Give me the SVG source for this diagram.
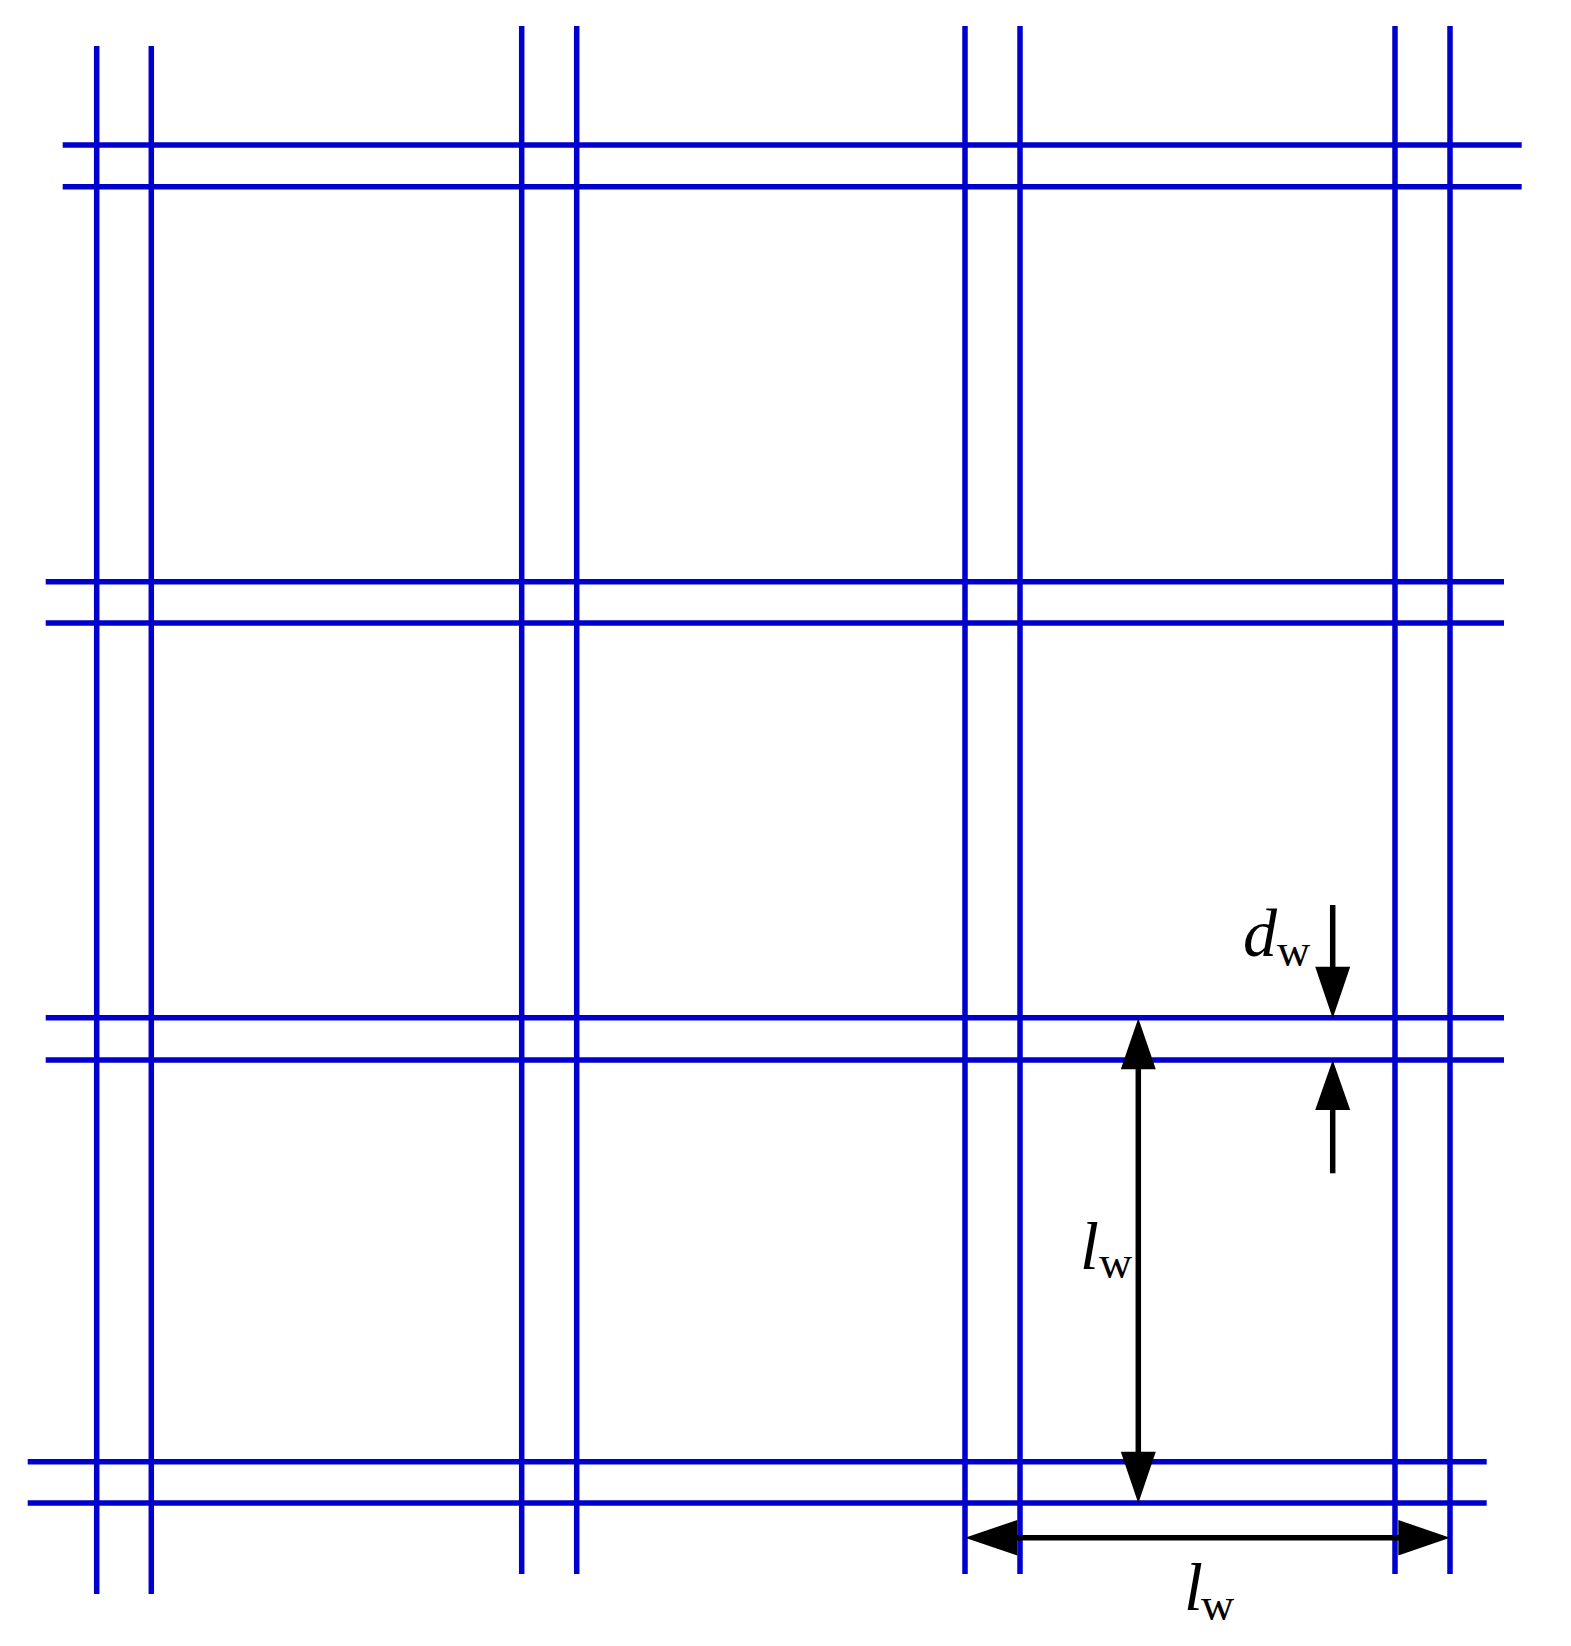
<svg xmlns="http://www.w3.org/2000/svg" width="1571" height="1646" viewBox="0 0 1571 1646">
<style>
.w{stroke:#0000cc;stroke-width:5.5;fill:none}
.d{stroke:#000;stroke-width:5.5;fill:none}
.h{fill:#000;stroke:none}
.t{font-family:"Liberation Serif","Times New Roman",serif;fill:#000}
</style>
<rect width="1571" height="1646" fill="#fff"/>
<g id="mesh">
<g id="horizontal-wires">
<line class="w" x1="62.7" y1="145" x2="1521.7" y2="145"/>
<line class="w" x1="62.7" y1="186.7" x2="1521.7" y2="186.7"/>
<line class="w" x1="45.7" y1="581.7" x2="1504" y2="581.7"/>
<line class="w" x1="45.7" y1="623" x2="1504" y2="623"/>
<line class="w" x1="45.7" y1="1017.7" x2="1504" y2="1017.7"/>
<line class="w" x1="45.7" y1="1060" x2="1504" y2="1060"/>
<line class="w" x1="27.7" y1="1461.7" x2="1486.7" y2="1461.7"/>
<line class="w" x1="27.7" y1="1503" x2="1486.7" y2="1503"/>
</g>
<g id="vertical-wires">
<line class="w" x1="96.7" y1="46" x2="96.7" y2="1594"/>
<line class="w" x1="151.3" y1="46" x2="151.3" y2="1594"/>
<line class="w" x1="521.7" y1="26" x2="521.7" y2="1574"/>
<line class="w" x1="576.7" y1="26" x2="576.7" y2="1574"/>
<line class="w" x1="965" y1="26" x2="965" y2="1574"/>
<line class="w" x1="1020" y1="26" x2="1020" y2="1574"/>
<line class="w" x1="1395" y1="26" x2="1395" y2="1574"/>
<line class="w" x1="1450" y1="26" x2="1450" y2="1574"/>
</g>
</g>
<g id="dimensions">
<g id="dim-dw">
<line class="d" x1="1332.7" y1="905" x2="1332.7" y2="968"/>
<polygon class="h" points="1315.2,966.7 1350.2,966.7 1332.7,1018.3"/>
<line class="d" x1="1332.7" y1="1108" x2="1332.7" y2="1173.3"/>
<polygon class="h" points="1315.2,1110 1350.2,1110 1332.7,1060"/>
</g>
<g id="dim-lw-vertical">
<line class="d" x1="1138.3" y1="1068" x2="1138.3" y2="1453"/>
<polygon class="h" points="1120.8,1069.3 1155.8,1069.3 1138.3,1018.3"/>
<polygon class="h" points="1120.8,1451.7 1155.8,1451.7 1138.3,1503.3"/>
</g>
<g id="dim-lw-horizontal">
<line class="d" x1="1016" y1="1537.7" x2="1400" y2="1537.7"/>
<polygon class="h" points="1017.3,1520 1017.3,1555.5 965,1537.7"/>
<polygon class="h" points="1398.3,1520 1398.3,1555.5 1450,1537.7"/>
</g>
</g>
<g id="labels">
<text id="label-dw" class="t"><tspan x="1243" y="956" font-size="68" font-style="italic">d</tspan><tspan x="1277" y="966" font-size="46">w</tspan></text>
<text id="label-lw-v" class="t"><tspan x="1080" y="1268.7" font-size="68" font-style="italic">l</tspan><tspan x="1099" y="1278" font-size="46">w</tspan></text>
<text id="label-lw-h" class="t"><tspan x="1184" y="1610" font-size="68" font-style="italic">l</tspan><tspan x="1201" y="1620" font-size="46">w</tspan></text>
</g>
</svg>
